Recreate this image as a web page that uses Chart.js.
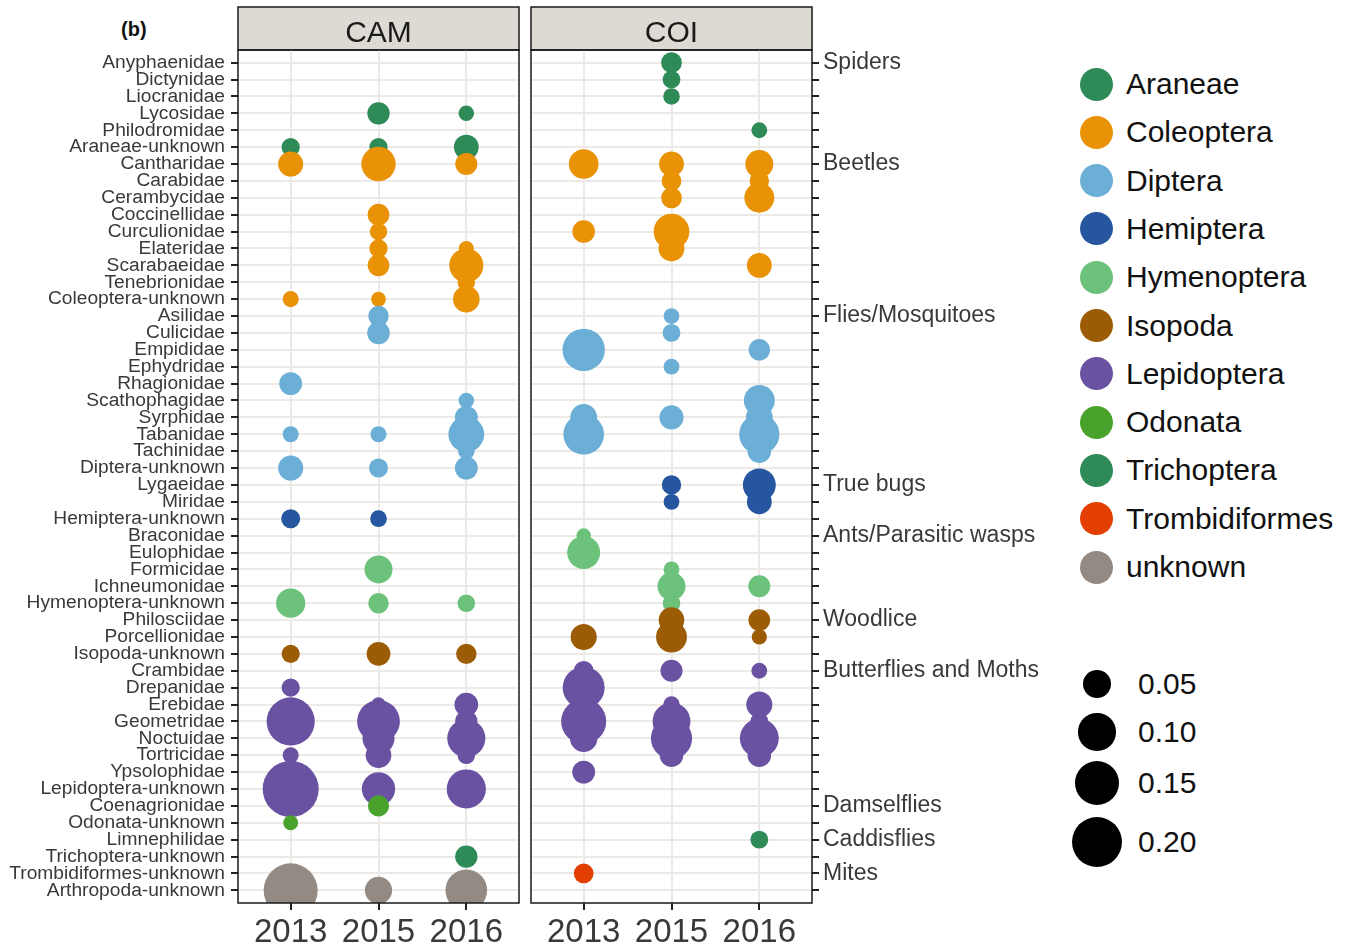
<!DOCTYPE html>
<html>
<head>
<meta charset="utf-8">
<script src="https://cdn.jsdelivr.net/npm/chart.js@4.4.1/dist/chart.umd.min.js"></script>
<style>
  body { margin: 0; background: #fff; width: 1353px; height: 948px; overflow: hidden; position: relative;
         font-family: "Liberation Sans", Arial, sans-serif; }
  canvas { position: absolute; top: 0; }
  #cam { left: 0; }
  #coi { left: 520px; }
  .tag { position: absolute; left: 121px; top: 18px; font-weight: bold; font-size: 20px; color: #111; }
  .dot { position: absolute; border-radius: 50%; }
  .txt { position: absolute; font-size: 30px; color: #111; line-height: 34px; white-space: nowrap; }
</style>
</head>
<body>
<div class="tag">(b)</div>
<canvas id="cam" width="530" height="948"></canvas>
<canvas id="coi" width="540" height="948"></canvas>
<div id="legend"></div>
<script>
// families, top to bottom
const families = [
  'Anyphaenidae', 'Dictynidae', 'Liocranidae', 'Lycosidae', 'Philodromidae', 'Araneae-unknown',
  'Cantharidae', 'Carabidae', 'Cerambycidae', 'Coccinellidae', 'Curculionidae', 'Elateridae',
  'Scarabaeidae', 'Tenebrionidae', 'Coleoptera-unknown',
  'Asilidae', 'Culicidae', 'Empididae', 'Ephydridae', 'Rhagionidae', 'Scathophagidae', 'Syrphidae',
  'Tabanidae', 'Tachinidae', 'Diptera-unknown',
  'Lygaeidae', 'Miridae', 'Hemiptera-unknown',
  'Braconidae', 'Eulophidae', 'Formicidae', 'Ichneumonidae', 'Hymenoptera-unknown',
  'Philosciidae', 'Porcellionidae', 'Isopoda-unknown',
  'Crambidae', 'Drepanidae', 'Erebidae', 'Geometridae', 'Noctuidae', 'Tortricidae', 'Ypsolophidae',
  'Lepidoptera-unknown',
  'Coenagrionidae', 'Odonata-unknown',
  'Limnephilidae', 'Trichoptera-unknown',
  'Trombidiformes-unknown',
  'Arthropoda-unknown'
];

const groupNames = ['Araneae', 'Coleoptera', 'Diptera', 'Hemiptera', 'Hymenoptera', 'Isopoda',
  'Lepidoptera', 'Odonata', 'Trichoptera', 'Trombidiformes', 'unknown'];
const groupCounts = [6, 9, 10, 3, 5, 3, 8, 2, 2, 1, 1];
const commonNames = ['Spiders', 'Beetles', 'Flies/Mosquitoes', 'True bugs', 'Ants/Parasitic wasps',
  'Woodlice', 'Butterflies and Moths', 'Damselflies', 'Caddisflies', 'Mites', ''];
const groupColors = ['#2E8B57', '#E99206', '#6BAED6', '#2656A0', '#6CC27B', '#9C5C05',
  '#6A52A3', '#48A22B', '#2E8B57', '#E33F02', '#938A84'];

const years = ['2013', '2015', '2016'];
const sizeBreaks = [0.05, 0.10, 0.15, 0.20];

// relative abundance per family (null = absent), one line per order
const cam2013 = [
  null, null, null, null, null, 0.016,
  0.038, null, null, null, null, null, null, null, 0.011,
  null, null, null, null, 0.030, null, null, 0.011, null, 0.038,
  null, null, 0.018,
  null, null, null, null, 0.056,
  null, null, 0.016,
  null, 0.016, null, 0.181, null, 0.011, null, 0.255,
  null, 0.0085,
  null, null,
  null,
  0.234
];
const cam2015 = [
  null, null, null, 0.028, null, 0.016,
  0.083, null, null, 0.026, 0.014, 0.016, 0.026, null, 0.0085,
  0.022, 0.029, null, null, null, null, null, 0.011, null, 0.018,
  null, null, 0.0125,
  null, null, 0.050, null, 0.022,
  null, null, 0.033,
  null, null, 0.008, 0.138, 0.070, 0.040, null, 0.077,
  0.024, null,
  null, null,
  null,
  0.047
];
const cam2016 = [
  null, null, null, 0.0098, null, 0.037,
  0.027, null, null, null, null, 0.009, 0.081, 0.014, 0.044,
  null, null, null, null, null, 0.0098, 0.030, 0.091, 0.012, 0.030,
  null, null, null,
  null, null, null, null, 0.0144,
  null, null, 0.022,
  null, null, 0.033, 0.028, 0.106, 0.0144, null, 0.113,
  null, null,
  null, 0.028,
  null,
  0.130
];
const coi2013 = [
  null, null, null, null, null, null,
  0.058, null, null, null, 0.029, null, null, null, null,
  null, null, 0.135, null, null, null, 0.045, 0.123, null, null,
  null, null, null,
  0.0079, 0.075, null, null, null,
  null, 0.042, null,
  0.020, 0.132, 0.030, 0.156, 0.0475, null, 0.030, null,
  null, null,
  null, null,
  0.020,
  null
];
const coi2015 = [
  0.023, 0.015, 0.012, null, null, null,
  0.037, 0.020, 0.023, null, 0.091, 0.041, null, null, null,
  0.0104, 0.015, null, 0.0104, null, null, 0.034, null, null, null,
  0.019, 0.0104, null,
  null, null, 0.0104, 0.050, 0.0144,
  0.040, 0.064, null,
  0.027, null, 0.012, 0.104, 0.127, 0.032, null, null,
  null, null,
  null, null,
  null,
  null
];
const coi2016 = [
  null, null, null, null, 0.0104, null,
  0.050, 0.019, 0.059, null, null, null, 0.037, null, null,
  null, null, 0.025, null, null, 0.064, 0.045, 0.120, 0.032, null,
  0.075, 0.037, null,
  null, null, null, 0.027, null,
  0.026, 0.0092, null,
  0.0104, null, 0.042, 0.015, 0.111, 0.032, null, null,
  null, null,
  0.015, null,
  null,
  null
];

const FONT = '"Liberation Sans", Arial, sans-serif';
Chart.defaults.font.family = FONT;

// group index of every row, and first row of each group
const rowGroup = [];
const groupStart = {};
groupCounts.forEach((n, gi) => {
  groupStart[rowGroup.length] = gi;
  for (let k = 0; k < n; k++) rowGroup.push(gi);
});

// bubble diameter in px
function sizeToDiameter(v) { return 5.6 + 100 * Math.sqrt(v); }

const panelFrame = {
  id: 'panelFrame',
  beforeDraw(chart, args, opts) {
    const { ctx, chartArea: a } = chart;
    ctx.save();
    ctx.fillStyle = '#DDDAD3';
    ctx.fillRect(a.left, 7, a.right - a.left, a.top - 7);
    ctx.strokeStyle = '#1a1a1a';
    ctx.lineWidth = 1.5;
    ctx.strokeRect(a.left, 7, a.right - a.left, a.top - 7);
    ctx.fillStyle = '#1a1a1a';
    ctx.font = '30px ' + FONT;
    ctx.textAlign = 'center';
    ctx.fillText(opts.title, (a.left + a.right) / 2, 42);
    ctx.restore();
  },
  afterDatasetsDraw(chart) {
    const { ctx, chartArea: a } = chart;
    ctx.save();
    ctx.strokeStyle = '#1a1a1a';
    ctx.lineWidth = 1.5;
    ctx.strokeRect(a.left, a.top, a.right - a.left, a.bottom - a.top);
    ctx.restore();
  }
};

function makePanel(id, title, yearValues, side) {
  const datasets = groupNames.map((g, gi) => ({
    label: g,
    data: [],
    backgroundColor: groupColors[gi],
    borderWidth: 0,
    order: groupNames.length - gi
  }));
  yearValues.forEach((vals, xi) => {
    vals.forEach((v, row) => {
      if (v == null) return;
      datasets[rowGroup[row]].data.push({ x: xi, y: row, r: sizeToDiameter(v) / 2 });
    });
  });

  const grid = { color: '#EBEAE7', lineWidth: 2, tickColor: '#222', tickWidth: 2, tickLength: 7 };

  return new Chart(document.getElementById(id), {
    type: 'bubble',
    data: { datasets },
    plugins: [panelFrame],
    options: {
      responsive: false,
      animation: false,
      events: [],
      layout: {
        autoPadding: false,
        padding: side === 'left' ? { top: 50, right: 11 } : { top: 50, left: 11 }
      },
      plugins: { legend: { display: false }, tooltip: { enabled: false }, panelFrame: { title } },
      scales: {
        x: {
          type: 'linear', min: -0.6, max: 2.6,
          afterBuildTicks: s => { s.ticks = years.map((_, i) => ({ value: i })); },
          afterFit: s => { s.height = 45; s.paddingLeft = 0; s.paddingRight = 0; },
          ticks: { callback: v => years[v], font: { size: 33 }, color: '#3b3838', padding: 3,
                   maxRotation: 0, autoSkip: false },
          grid, border: { display: false }
        },
        y: {
          type: 'linear', reverse: true, min: -0.75, max: 49.75, position: side,
          afterBuildTicks: s => { s.ticks = families.map((_, i) => ({ value: i })); },
          afterFit: s => { s.width = side === 'left' ? 238 : 248; s.paddingTop = 0; s.paddingBottom = 0; },
          ticks: {
            autoSkip: false,
            padding: side === 'left' ? 6 : 4,
            color: '#3b3838',
            font: { size: side === 'left' ? 19.2 : 23 },
            callback: v => side === 'left' ? families[v]
              : (groupStart[v] !== undefined ? commonNames[groupStart[v]] : '')
          },
          grid, border: { display: false }
        }
      }
    }
  });
}

makePanel('cam', 'CAM', [cam2013, cam2015, cam2016], 'left');
makePanel('coi', 'COI', [coi2013, coi2015, coi2016], 'right');

// legends
const legend = document.getElementById('legend');
function addItem(cx, cy, d, color, text, tx) {
  const dot = document.createElement('div');
  dot.className = 'dot';
  Object.assign(dot.style, { left: (cx - d / 2) + 'px', top: (cy - d / 2) + 'px',
    width: d + 'px', height: d + 'px', background: color });
  const t = document.createElement('div');
  t.className = 'txt';
  t.textContent = text;
  Object.assign(t.style, { left: tx + 'px', top: (cy - 17) + 'px' });
  legend.appendChild(dot);
  legend.appendChild(t);
}
groupNames.forEach((g, i) => addItem(1096, 84 + i * 48.3, 33, groupColors[i], g, 1126));
const sizeY = [684, 732, 783, 842];
sizeBreaks.forEach((b, i) => addItem(1097, sizeY[i], sizeToDiameter(b), '#000', b.toFixed(2), 1138));
</script>
</body>
</html>
